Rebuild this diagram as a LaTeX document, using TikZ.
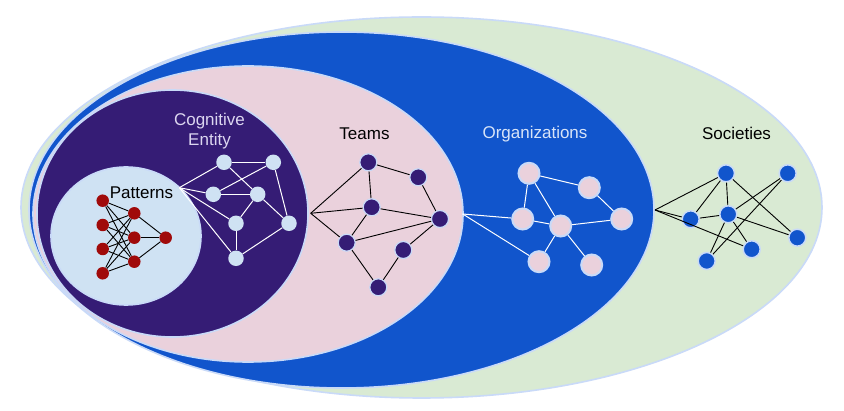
\documentclass[tikz,border=0pt]{standalone}
\usepackage{fontspec}
\setmainfont{Liberation Sans}
\definecolor{soc}{HTML}{D9EAD3}
\definecolor{org}{HTML}{1155CC}
\definecolor{team}{HTML}{EAD1DC}
\definecolor{cog}{HTML}{351C75}
\definecolor{pat}{HTML}{CFE2F3}
\definecolor{rim}{HTML}{C9DAF8}
\definecolor{redn}{HTML}{A00A0A}
\definecolor{lavtext}{HTML}{DCD6F0}
\definecolor{orgtext}{HTML}{D8E4F8}
\begin{document}
\begin{tikzpicture}[x=1pt,y=-1pt,
  layer/.style={fill=#1,draw=rim,line width=1.6pt},
  lbl/.style={font=\fontsize{17}{20}\selectfont,inner sep=0pt,align=center},
  rednode/.style={circle,fill=redn,minimum size=12.5pt,inner sep=0pt},
  cognode/.style={circle,fill=pat,minimum size=15.5pt,inner sep=0pt},
  teamnode/.style={circle,fill=cog,draw=rim,line width=1.2pt,minimum size=17pt,inner sep=0pt},
  orgnode/.style={circle,fill=team,draw=rim,line width=2pt,minimum size=21pt,inner sep=0pt},
  socnode/.style={circle,fill=org,draw=rim,line width=1.5pt,minimum size=17pt,inner sep=0pt},
  blk/.style={draw=black,line width=0.9pt},
  wht/.style={draw=white,line width=1pt}]
\useasboundingbox (0,0) rectangle (844,411);
\fill[white] (0,0) rectangle (844,411);
% nested layers
\path[layer=soc] (421.5,207.5) ellipse [x radius=400.5, y radius=190.5];
\path[layer=org] (341.5,210) ellipse [x radius=312.5, y radius=178];
\path[layer=team] (248,214) ellipse [x radius=215, y radius=148];
\path[layer=cog] (172.5,213.5) ellipse [x radius=135.5, y radius=123.5];
\path[layer=pat] (126,236) ellipse [x radius=75, y radius=69];

% labels
\node[lbl] (lpat) at (141.5,193) {Patterns};
\node[lbl,text=lavtext] (lcog) at (209.5,131) {Cognitive\\Entity};
\node[lbl] (lteam) at (364.5,133.5) {Teams};
\node[lbl,text=orgtext] (lorg) at (535,134) {Organizations};
\node[lbl] (lsoc) at (736.5,133.5) {Societies};

% Patterns network
\node[rednode] (p1) at (102.7,200.7) {};
\node[rednode] (p2) at (102.7,225) {};
\node[rednode] (p3) at (102.7,249) {};
\node[rednode] (p4) at (102.7,273.3) {};
\node[rednode] (q1) at (134.3,213.3) {};
\node[rednode] (q2) at (134.3,237.7) {};
\node[rednode] (q3) at (134.3,261.7) {};
\node[rednode] (r1) at (165.7,237.7) {};
\foreach \a in {p1,p2,p3,p4}{\foreach \b in {q1,q2,q3}{\draw[blk] (\a) -- (\b);}}
\foreach \b in {q1,q2,q3}{\draw[blk] (\b) -- (r1);}

% Cognitive entity network
\coordinate (hc) at (179.3,187.7);
\node[cognode] (c1) at (224,162.3) {};
\node[cognode] (c2) at (273.3,162.3) {};
\node[cognode] (c3) at (213.3,194.3) {};
\node[cognode] (c4) at (257.7,194.3) {};
\node[cognode] (c5) at (236,223.3) {};
\node[cognode] (c6) at (289,223.3) {};
\node[cognode] (c7) at (236,258.3) {};
\foreach \b in {c1,c3,c5,c7}{\draw[wht] (hc) -- (\b);}
\draw[wht] (c1) -- (c2);
\draw[wht] (c1) -- (c4);
\draw[wht] (c3) -- (c2);
\draw[wht] (c3) -- (c4);
\draw[wht] (c2) -- (c6);
\draw[wht] (c4) -- (c5);
\draw[wht] (c4) -- (c6);
\draw[wht] (c5) -- (c7);
\draw[wht] (c7) -- (c6);

% Teams network
\coordinate (ht) at (310.7,213.3);
\node[teamnode] (t1) at (368.3,162.3) {};
\node[teamnode] (t2) at (418.3,177.3) {};
\node[teamnode] (t3) at (371.7,207.3) {};
\node[teamnode] (t4) at (440,219) {};
\node[teamnode] (t5) at (346.7,242.7) {};
\node[teamnode] (t6) at (403.3,250) {};
\node[teamnode] (t7) at (378.3,287.3) {};
\foreach \b in {t1,t3,t5}{\draw[blk] (ht) -- (\b);}
\draw[blk] (t1) -- (t2);
\draw[blk] (t1) -- (t3);
\draw[blk] (t3) -- (t4);
\draw[blk] (t3) -- (t5);
\draw[blk] (t5) -- (t4);
\draw[blk] (t2) -- (t4);
\draw[blk] (t4) -- (t6);
\draw[blk] (t6) -- (t7);
\draw[blk] (t5) -- (t7);

% Organizations network
\coordinate (ho) at (462.7,214);
\node[orgnode] (o1) at (529,173.3) {};
\node[orgnode] (o2) at (589.3,187.7) {};
\node[orgnode] (o3) at (522.7,219) {};
\node[orgnode] (o4) at (560.7,226) {};
\node[orgnode] (o5) at (621.7,219) {};
\node[orgnode] (o6) at (539,261.7) {};
\node[orgnode] (o7) at (591.7,265) {};
\draw[wht] (ho) -- (o3);
\draw[wht] (ho) -- (o6);
\draw[wht] (o1) -- (o2);
\draw[wht] (o1) -- (o3);
\draw[wht] (o1) -- (o4);
\draw[wht] (o3) -- (o4);
\draw[wht] (o2) -- (o5);
\draw[wht] (o4) -- (o5);
\draw[wht] (o4) -- (o6);
\draw[wht] (o4) -- (o7);

% Societies network
\coordinate (hs) at (655,210);
\node[socnode] (s1) at (726,173.3) {};
\node[socnode] (s2) at (787.7,173.3) {};
\node[socnode] (s3) at (690.7,219.3) {};
\node[socnode] (s4) at (728.3,214.3) {};
\node[socnode] (s5) at (797.3,237.7) {};
\node[socnode] (s6) at (751.7,249.3) {};
\node[socnode] (s7) at (706.7,261) {};
\draw[blk] (hs) -- (s1);
\draw[blk] (hs) -- (s3);
\draw[blk] (hs) -- (s6);
\draw[blk] (s1) -- (s3);
\draw[blk] (s1) -- (s4);
\draw[blk] (s1) -- (s5);
\draw[blk] (s3) -- (s4);
\draw[blk] (s4) -- (s5);
\draw[blk] (s4) -- (s6);
\draw[blk] (s4) -- (s7);
\draw[blk] (s2) -- (s7);
\draw[blk] (s2) -- (s4);
\end{tikzpicture}
\end{document}
